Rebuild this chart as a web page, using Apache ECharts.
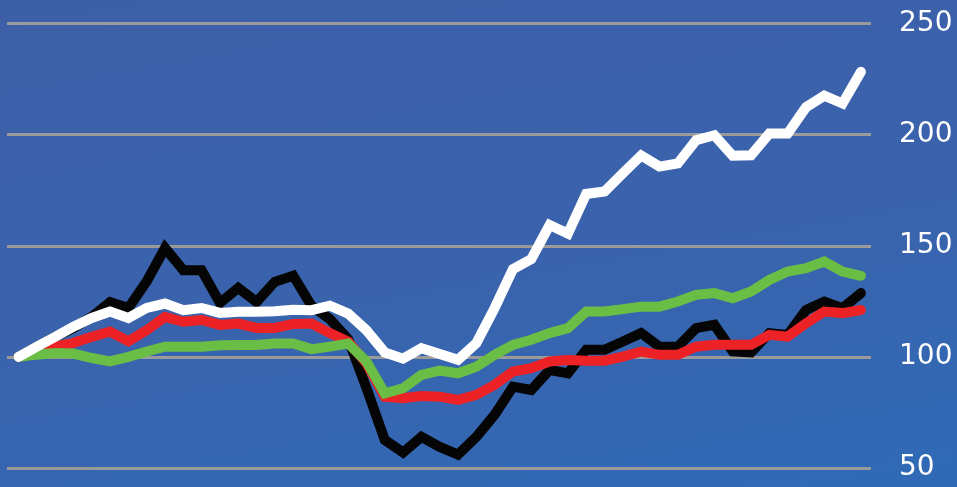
<!DOCTYPE html>
<html>
<head>
<meta charset="utf-8">
<script src="https://cdn.jsdelivr.net/npm/echarts@6/dist/echarts.min.js"></script>
<style>
html,body{margin:0;padding:0;width:957px;height:487px;overflow:hidden;}
#c{width:957px;height:487px;background:linear-gradient(170deg,#3d5fa8 0%,#3a63ad 55%,#2f6ab6 100%);}
</style>
</head>
<body>
<div id="c"></div>
<script>
var yTicks = [50, 100, 150, 200, 250];
var blackSeries = [100,104.6,109,113,118,124.7,122,134,149,139,139,124.3,131,124.7,133.8,136.5,123,117,108,86,62.6,57,64,59.5,56,64,74,86.6,85.1,94.1,92.6,103.2,103.2,106.9,110.7,104.6,104.6,112.9,114.4,102.5,102,110.7,109.9,121.1,124.9,121.9,128.7];
var redSeries = [100,102,104.6,106.3,109,111.4,107,112,118,115.8,116.6,114.4,115,113,113,114.8,115,110.7,106.9,97.1,82.1,81.4,82.4,82.1,80.6,82.9,87.4,93.4,94.9,97.9,98.6,98.3,98.3,100.1,102.4,100.9,100.9,104.6,105.4,105.4,105.4,109.9,109.1,115.1,120.4,119.7,121.1];
var greenSeries = [100,101,101.7,101.5,99.5,98,100,102.4,104.6,104.6,104.6,105.2,105.3,105.3,106,106,103.5,104.6,106,97.9,83.6,85.9,91.9,93.8,92.6,95.6,100.9,105.4,107.7,110.7,112.9,120.4,120.4,121.5,122.6,122.6,124.9,127.9,128.7,126.4,129.4,134.6,138.4,139.9,142.9,138.4,136.5];
var whiteSeries = [100,104.6,109,113.6,117.5,120.4,117.5,122,124,121,122,119.8,120.3,120.3,120.5,121.2,121,123,119.5,112,102,99.2,103.9,101.3,98.7,106.2,122,139.5,144,159.3,155.5,173.3,174.4,182.6,190.6,185.6,187,197.5,199.7,190.5,190.7,200.5,200.5,212.3,217.5,214,228.3];

function pairs(arr){ return arr.map(function(v,i){ return [i, v]; }); }
function mk(name, arr, color){
  return {
    name: name, type: 'line', data: pairs(arr), symbol: 'none', smooth: false,
    lineStyle: {color: color, width: 10, cap: 'round', join: 'miter'},
    silent: true, animation: false
  };
}
var chart = echarts.init(document.getElementById('c'), null, {renderer: 'canvas'});
chart.setOption({
  backgroundColor: 'transparent',
  animation: false,
  grid: {left: 7, right: 86, top: 23.5, bottom: 19, containLabel: false},
  xAxis: {
    type: 'value', min: -0.628, max: 46.55,
    axisLine: {show: false}, axisTick: {show: false}, axisLabel: {show: false}, splitLine: {show: false}
  },
  yAxis: {
    type: 'value', position: 'right', min: yTicks[0], max: yTicks[yTicks.length-1], interval: 50,
    axisLine: {show: false}, axisTick: {show: false},
    axisLabel: {color: '#ffffff', fontSize: 28, fontFamily: 'DejaVu Sans', margin: 28, align: 'left',
      formatter: function(v){ return yTicks.indexOf(v) >= 0 ? String(v) : ''; }},
    splitLine: {show: true, lineStyle: {color: '#9a9a9a', width: 3}}
  },
  series: [
    mk('Black', blackSeries, '#050505'),
    mk('Red', redSeries, '#ec2227'),
    mk('Green', greenSeries, '#6abd45'),
    mk('White', whiteSeries, '#ffffff')
  ]
});
</script>
</body>
</html>
